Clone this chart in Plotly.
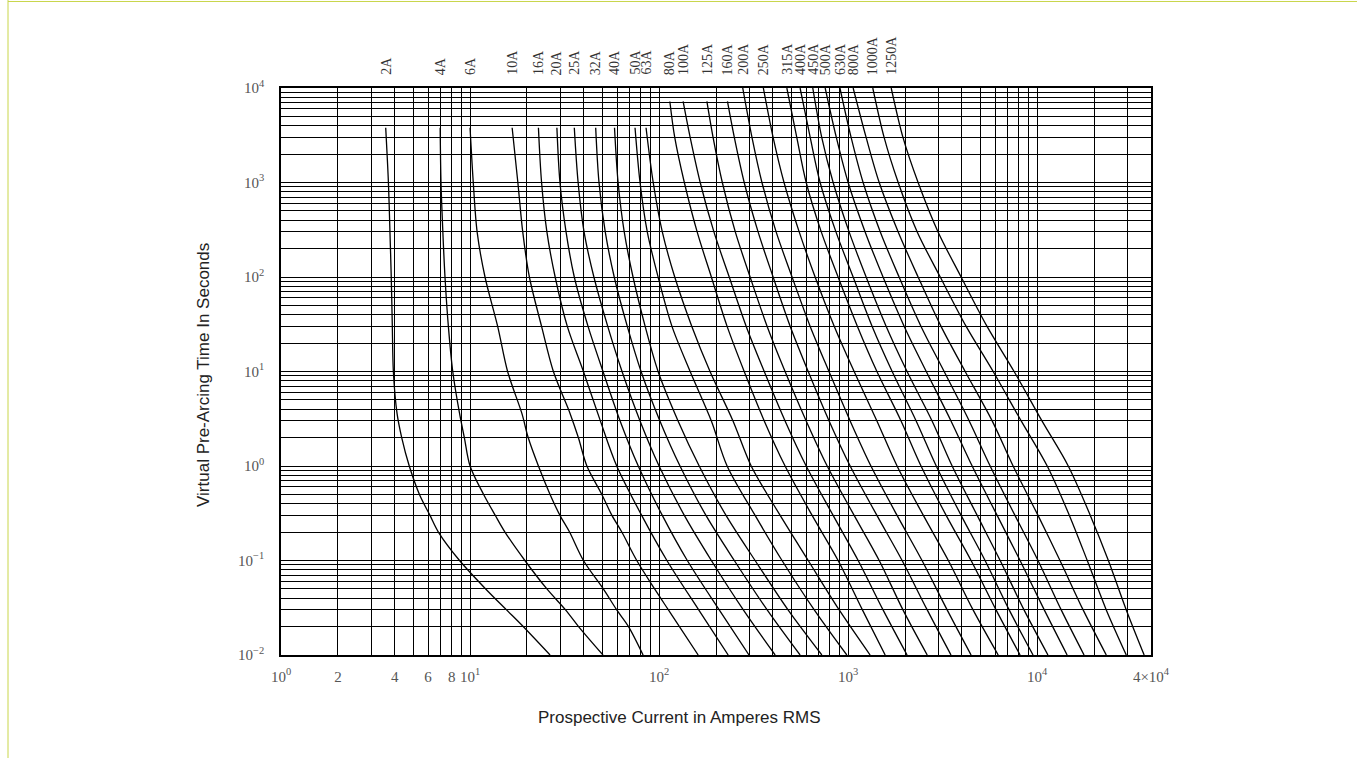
import math
import plotly.graph_objects as go

# ---------------- data ----------------
ratings = ["2A", "4A", "6A", "10A", "16A", "20A", "25A", "32A", "40A", "50A", "63A",
           "80A", "100A", "125A", "160A", "200A", "250A", "315A", "400A", "450A",
           "500A", "630A", "800A", "1000A", "1250A"]

# pre-arcing time (s) grids
t_low = [3800, 1000, 300, 100, 30, 10, 3.6, 2, 1, 0.5, 0.3, 0.2, 0.1, 0.05, 0.03, 0.02, 0.01]
t_10A = [3800, 1000, 300, 100, 30, 10, 3.6, 2, 1, 0.5, 0.3, 0.2, 0.1, 0.05, 0.03, 0.01]
t_mid = [3800, 1000, 300, 100, 30, 10, 3, 1, 0.3, 0.1, 0.03, 0.01]
t_hi = [7200, 3000, 1000, 300, 100, 30, 10, 3, 1, 0.3, 0.1, 0.03, 0.01]
t_top = [10000, 3000, 1000, 300, 100, 30, 10, 3, 1, 0.3, 0.1, 0.03, 0.01]

# prospective current (A)
i_2A = [3.58, 3.70, 3.77, 3.83, 3.88, 3.93, 4.11, 4.35, 4.77, 5.40, 6.14, 6.80, 8.80, 12.1, 15.6, 19.1, 26.5]
i_4A = [6.95, 7.02, 7.18, 7.37, 7.68, 8.10, 8.80, 9.33, 10.0, 11.8, 13.6, 15.3, 19.5, 25.5, 32.0, 37.5, 50.5]
i_6A = [10.0, 10.4, 10.9, 12.0, 14.0, 15.8, 18.8, 20.3, 23.0, 26.5, 29.9, 33.6, 39.8, 50.7, 59.7, 68.9, 82.3]
i_10A = [16.7, 17.9, 19.0, 20.6, 23.9, 27.6, 33.8, 37.4, 41.5, 49.8, 56.3, 63.5, 76.2, 94.7, 112, 161]
i_16A = [23.0, 23.9, 25.5, 28.2, 32.7, 39.8, 48.9, 59.7, 80.9, 110, 162, 232]
i_20A = [28.8, 29.9, 32.2, 35.6, 42.1, 50.5, 62.2, 77.6, 104, 141, 208, 299]
i_25A = [35.6, 37.3, 40.1, 45.2, 53.5, 63.7, 79.3, 100, 136, 189, 279, 411]
i_32A = [46.2, 48.1, 51.9, 57.9, 67.9, 80.3, 101, 129, 177, 250, 373, 557]
i_40A = [58.1, 60.7, 65.4, 72.8, 84.4, 98.8, 126, 163, 226, 322, 481, 726]
i_50A = [74.6, 79.3, 86.6, 98.8, 117, 146, 189, 229, 322, 447, 662, 984]
i_63A = [85.3, 93.1, 104, 121, 149, 186, 246, 307, 437, 615, 897, 1307]
i_80A = [114, 121, 136, 159, 189, 229, 282, 360, 464, 645, 885, 1190, 1570]
i_100A = [134, 146, 165, 195, 235, 289, 360, 464, 600, 833, 1130, 1530, 2050]
i_125A = [179, 193, 216, 253, 303, 373, 464, 600, 775, 1076, 1460, 1950, 2620]
i_160A = [230, 250, 282, 334, 401, 494, 615, 793, 1025, 1420, 1930, 2620, 3500]
i_200A = [277, 310, 350, 416, 505, 630, 792, 1025, 1320, 1815, 2460, 3340, 4470]
i_250A = [356, 401, 458, 551, 669, 845, 1076, 1420, 1815, 2500, 3390, 4580, 6220]
i_315A = [474, 535, 600, 721, 885, 1120, 1420, 1905, 2430, 3300, 4470, 6060, 8120]
i_400A = [557, 630, 711, 862, 1063, 1340, 1710, 2290, 2925, 3960, 5300, 7110, 9510]
i_450A = [650, 725, 833, 1012, 1245, 1590, 2050, 2780, 3550, 4815, 6370, 8520, 11400]
i_500A = [756, 866, 1000, 1230, 1530, 1980, 2590, 3500, 4530, 6140, 8120, 10900, 14400]
i_630A = [905, 1037, 1200, 1480, 1860, 2430, 3220, 4370, 5640, 7630, 10100, 13400, 17700]
i_800A = [1063, 1245, 1460, 1840, 2345, 3100, 4160, 5780, 7460, 10100, 13200, 17500, 23200]
i_1000A = [1350, 1550, 1840, 2320, 3070, 4210, 5850, 8230, 11300, 14800, 18400, 23200, 29600]
i_1250A = [1690, 1950, 2345, 2990, 3960, 5430, 7550, 10600, 14600, 19100, 23800, 29600, 36800]

curve_times = [t_low, t_low, t_low, t_10A] + [t_mid] * 7 + [t_hi] * 4 + [t_top] * 10
curve_currents = [i_2A, i_4A, i_6A, i_10A, i_16A, i_20A, i_25A, i_32A, i_40A, i_50A, i_63A,
                  i_80A, i_100A, i_125A, i_160A, i_200A, i_250A, i_315A, i_400A, i_450A,
                  i_500A, i_630A, i_800A, i_1000A, i_1250A]

# axis ticks
x_tickvals = [1, 2, 4, 6, 8, 10, 100, 1000, 10000, 40000]
x_ticktext = ["10<sup>0</sup>", "2", "4", "6", "8", "10<sup>1</sup>", "10<sup>2</sup>",
              "10<sup>3</sup>", "10<sup>4</sup>", "4×10<sup>4</sup>"]
y_tickvals = [0.01, 0.1, 1, 10, 100, 1000, 10000]
y_ticktext = ["10<sup>−2</sup>", "10<sup>−1</sup>", "10<sup>0</sup>", "10<sup>1</sup>",
              "10<sup>2</sup>", "10<sup>3</sup>", "10<sup>4</sup>"]
x_minor = [m * d for d in (1, 10, 100, 1000) for m in range(2, 10)] + [20000, 30000]
y_minor = [m * d for d in (0.01, 0.1, 1, 10, 100, 1000) for m in range(2, 10)]

x_title = "Prospective Current in Amperes RMS"
y_title = "Virtual Pre-Arcing Time In Seconds"

# ---------------- figure ----------------
fig = go.Figure()
for name, ts, cs in zip(ratings, curve_times, curve_currents):
    fig.add_trace(go.Scatter(
        x=cs, y=ts, mode="lines", name=name,
        line=dict(color="black", width=1.3, shape="spline", smoothing=0.9),
        hoverinfo="name+x+y", showlegend=False))

serif = "Liberation Serif, Times New Roman, serif"
sans = "Liberation Sans, Arial, sans-serif"

grid = dict(showgrid=True, gridcolor="black", gridwidth=1)
fig.update_xaxes(
    type="log", range=[0, math.log10(40000)],
    tickmode="array", tickvals=x_tickvals, ticktext=x_ticktext,
    ticks="", ticklabelstandoff=7,
    tickfont=dict(family=serif, size=15, color="#555"),
    minor=dict(tickmode="array", tickvals=x_minor, ticks="", **grid),
    showline=True, mirror=True, linecolor="black", linewidth=1.5,
    zeroline=False, **grid)
fig.update_yaxes(
    type="log", range=[-2, 4],
    tickmode="array", tickvals=y_tickvals, ticktext=y_ticktext,
    ticks="", ticklabelstandoff=12,
    tickfont=dict(family=serif, size=15, color="#555"),
    minor=dict(tickmode="array", tickvals=y_minor, ticks="", **grid),
    showline=True, mirror=True, linecolor="black", linewidth=1.5,
    zeroline=False, **grid)

annotations = []
for name, cs in zip(ratings, curve_currents):
    annotations.append(dict(
        x=math.log10(cs[0]), xref="x", y=1, yref="paper",
        xanchor="center", yanchor="bottom", yshift=11,
        text=name, textangle=-90, showarrow=False,
        font=dict(family=serif, size=14, color="#333")))
annotations.append(dict(
    x=0.4586, y=-0.111, xref="paper", yref="paper", xanchor="center", yanchor="middle",
    text=x_title, showarrow=False, font=dict(family=sans, size=17, color="#222")))
annotations.append(dict(
    x=-0.0897, y=0.4938, xref="paper", yref="paper", xanchor="center", yanchor="middle",
    text=y_title, textangle=-90, showarrow=False, font=dict(family=sans, size=17, color="#222")))

frame_col = "#c9d64b"
shapes = [
    dict(type="line", xref="paper", yref="paper", x0=-0.31379, x1=-0.31379, y0=-0.18166, y1=1.1552,
         line=dict(color=frame_col, width=1)),
    dict(type="line", xref="paper", yref="paper", x0=-0.31379, x1=1.23678, y0=1.15256, y1=1.15256,
         line=dict(color=frame_col, width=1)),
]

fig.update_layout(
    width=1357, height=758,
    margin=dict(l=281, r=206, t=88, b=103),
    paper_bgcolor="white", plot_bgcolor="white",
    annotations=annotations, shapes=shapes, showlegend=False)

fig.write_html("out.html")
